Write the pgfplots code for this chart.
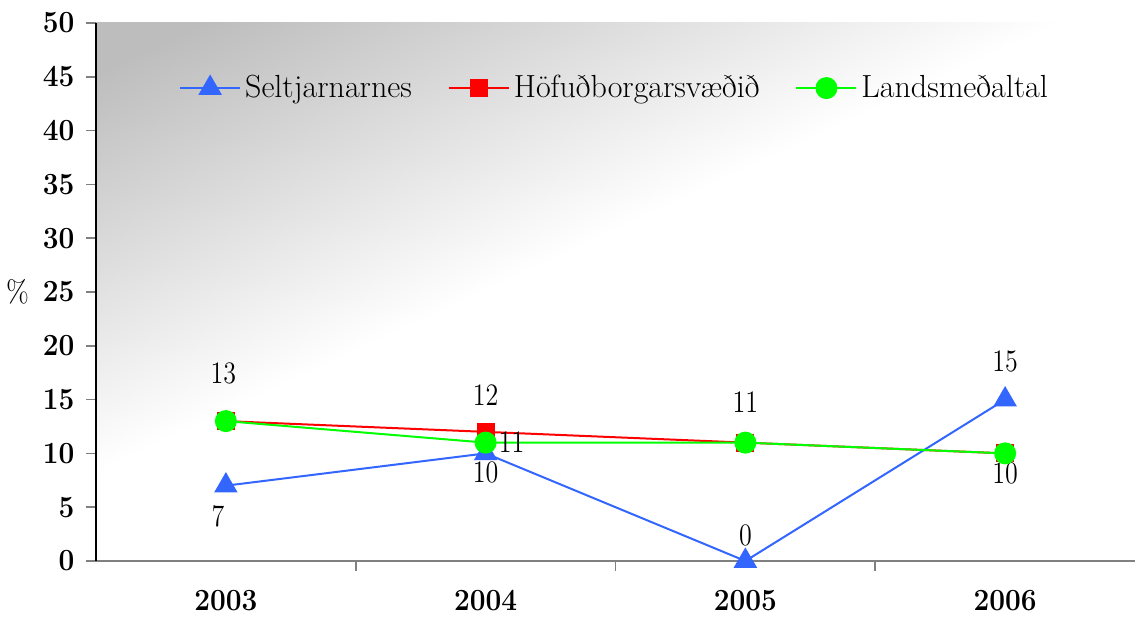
\documentclass[border=0pt]{standalone}
\usepackage{graphicx}
\usepackage{pgfplots}
\pgfplotsset{compat=1.18}
\definecolor{cBlue}{HTML}{3366FF}
\definecolor{cRed}{HTML}{FF0000}
\definecolor{cGreen}{HTML}{00FF00}
\definecolor{axgray}{HTML}{808080}
\definecolor{bgtop}{HTML}{BDBDBD}
\pgfdeclareverticalshading{bgshade}{100bp}{color(0bp)=(white); color(54bp)=(white); color(80bp)=(bgtop); color(100bp)=(bgtop)}
\newcommand{\lbl}[1]{\fontsize{13}{15}\selectfont\scalebox{1}[1.2]{#1}}
\newcommand{\tl}[1]{\scalebox{1}[1.1]{#1}}
\begin{document}
\begin{tikzpicture}
\begin{axis}[
  scale only axis, width=519.5pt, height=269pt,
  xmin=-0.5, xmax=3.5, ymin=0, ymax=50,
  axis x line=bottom, axis y line=left,
  x axis line style={-, axgray, line width=0.8pt},
  y axis line style={-, black, line width=0.9pt},
  axis background/.style={shading=bgshade, shading angle=25},
  tick align=outside, major tick length=5pt,
  tick style={axgray, line width=0.8pt},
  ytick={0,5,...,50},
  yticklabel={\tl{\pgfmathprintnumber{\tick}}},
  xtick={0.5,1.5,2.5}, xticklabels={},
  extra x ticks={0,1,2,3}, extra x tick labels={\tl{2003},\tl{2004},\tl{2005},\tl{2006}},
  extra x tick style={major tick length=0pt, xticklabel style={yshift=-11pt}},
  /pgf/number format/assume math mode=true,
  tick label style={font=\fontsize{14}{16}\selectfont\bfseries, black},
  yticklabel style={xshift=-2.3pt},
  ylabel={\tl{\%}},
  every axis y label/.style={at={(ticklabel cs:0.5)}, anchor=east, font=\fontsize{14}{16}\selectfont},
  legend style={at={(0.5,0.879)}, anchor=center, draw=none, fill=none,
    font=\fontsize{16}{18}\selectfont, legend columns=3,
    /tikz/every even column/.append style={column sep=16pt}},
  legend image code/.code={\draw[mark repeat=2,mark phase=2] plot coordinates {(0pt,0pt) (15pt,0pt) (30pt,0pt)};},
]
\addplot[cBlue, line width=1pt, mark=triangle*, mark size=5.8pt, mark options={fill=cBlue, draw=cBlue}]
  coordinates {(0,7) (1,10) (2,0) (3,15)};
\addlegendentry{Seltjarnarnes}
\addplot[cRed, line width=1pt, mark=square*, mark size=4pt, mark options={fill=cRed, draw=cRed}]
  coordinates {(0,13) (1,12) (2,11) (3,10)};
\addlegendentry{Höfuðborgarsvæðið}
\addplot[cGreen, line width=1pt, mark=*, mark size=5pt, mark options={fill=cGreen, draw=cGreen}]
  coordinates {(0,13) (1,11) (2,11) (3,10)};
\addlegendentry{Landsmeðaltal}
\node at (axis cs:-0.01,17.47) {\lbl{13}};
\node at (axis cs:-0.03,4.18) {\lbl{7}};
\node at (axis cs:1,15.43) {\lbl{12}};
\node at (axis cs:1,8.27) {\lbl{10}};
\node at (axis cs:1.1,11.06) {\lbl{11}};
\node at (axis cs:2,14.78) {\lbl{11}};
\node at (axis cs:2,2.42) {\lbl{0}};
\node at (axis cs:3,18.5) {\lbl{15}};
\node at (axis cs:3,8.09) {\lbl{10}};
\coordinate (bl) at (rel axis cs:0,0);
\coordinate (tr) at (rel axis cs:1,1);
\end{axis}
\pgfresetboundingbox
\path[use as bounding box] ([xshift=-48pt,yshift=-28pt]bl) rectangle ([xshift=0.5pt,yshift=11.5pt]tr);
\end{tikzpicture}
\end{document}
